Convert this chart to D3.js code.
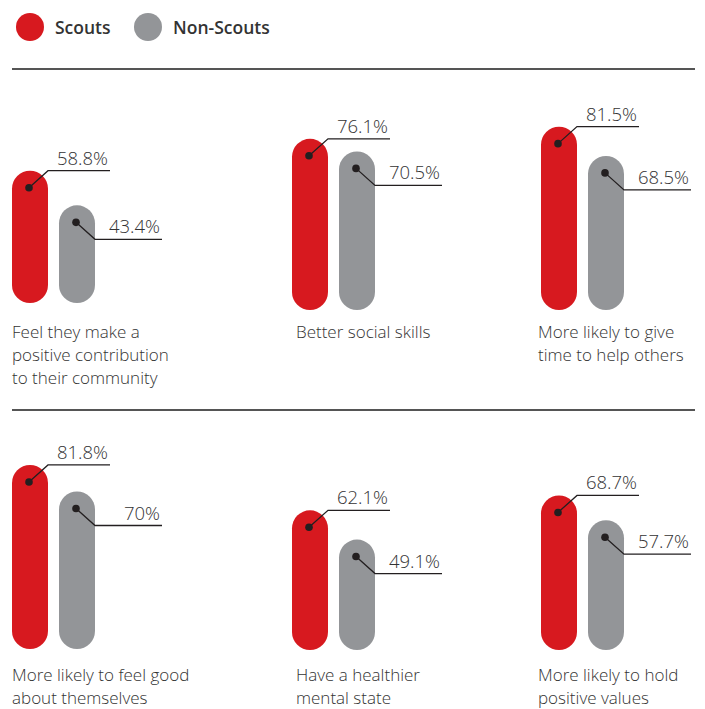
<!DOCTYPE html>
<html><head><meta charset="utf-8">
<script src="https://cdn.jsdelivr.net/npm/d3@7"></script>
<style>
body{margin:0;background:#fff;}
svg{display:block;}
</style></head>
<body>
<svg id="chart" width="705" height="709"></svg>
<script>
const categories = [
  ["Feel they make a","positive contribution","to their community"],
  ["Better social skills"],
  ["More likely to give","time to help others"],
  ["More likely to feel good","about themselves"],
  ["Have a healthier","mental state"],
  ["More likely to hold","positive values"]
];
const scouts    = [58.8, 76.1, 81.5, 81.8, 62.1, 68.7];
const nonScouts = [43.4, 70.5, 68.5, 70.0, 49.1, 57.7];
const seriesNames = ["Scouts", "Non-Scouts"];

const RED = "#d7191f", GRAY = "#939598", INK = "#231f20", TXT = "#333333";
const FONT = "'Open Sans', 'Noto Sans', sans-serif";

const svg = d3.select("#chart");

// legend
const legend = svg.append("g");
const legX = [30, 148];
seriesNames.forEach((n, i) => {
  legend.append("circle").attr("cx", legX[i]).attr("cy", 27).attr("r", 14)
    .attr("fill", i === 0 ? RED : GRAY);
  legend.append("text").attr("x", legX[i] + 25).attr("y", 34)
    .attr("font-family", FONT).attr("font-weight", 600).attr("font-size", 17.5)
    .attr("fill", TXT).text(n);
});

// rules
[69, 410].forEach(y => svg.append("line").attr("x1", 12).attr("x2", 695)
  .attr("y1", y).attr("y2", y).attr("stroke", "#555").attr("stroke-width", 2));

const h = d3.scaleLinear().domain([0, 100]).range([0, 225]);
const barW = 36, gap = 47;

// layout per panel
const panelX = [12, 292, 541, 12, 292, 541];
const labelX = [12, 296, 538, 12, 296, 538];
const baseY  = [303, 310, 310, 649, 650, 650];
const labelY = [338, 338, 338, 681, 681, 681];
const lineH  = 23;
const labelFS = 17;

categories.forEach((cat, i) => {
  const g = svg.append("g");
  const vals = [scouts[i], nonScouts[i]];
  vals.forEach((v, j) => {
    const x = panelX[i] + j * gap;
    const top = baseY[i] - h(v);
    g.append("rect").attr("x", x).attr("y", top).attr("width", barW)
      .attr("height", h(v)).attr("rx", barW / 2).attr("ry", barW / 2)
      .attr("fill", j === 0 ? RED : GRAY);
    const dx = x + barW / 2 - 1, dy = top + 17;
    const ex = x + barW, ey = j === 0 ? top : dy + 17;
    const lineEnd = ex + (j === 0 ? 62 : 67);
    g.append("path")
      .attr("d", `M${dx},${dy}L${ex},${ey}L${lineEnd},${ey}`)
      .attr("fill", "none").attr("stroke", INK).attr("stroke-width", 1.3);
    g.append("circle").attr("cx", dx).attr("cy", dy).attr("r", 3.8).attr("fill", INK);
    g.append("text").attr("x", lineEnd - 2).attr("y", ey - 6)
      .attr("text-anchor", "end").attr("font-family", FONT).attr("font-weight", 300)
      .attr("font-size", 18.5).attr("fill", TXT)
      .text(d3.format(".1~f")(v) + "%");
  });
  const t = g.append("text").attr("x", labelX[i]).attr("y", labelY[i])
    .attr("font-family", FONT).attr("font-weight", 300).attr("font-size", labelFS)
    .attr("fill", TXT);
  cat.forEach((line, k) => {
    t.append("tspan").attr("x", labelX[i]).attr("y", labelY[i] + k * lineH).text(line);
  });
});
</script>
</body></html>
